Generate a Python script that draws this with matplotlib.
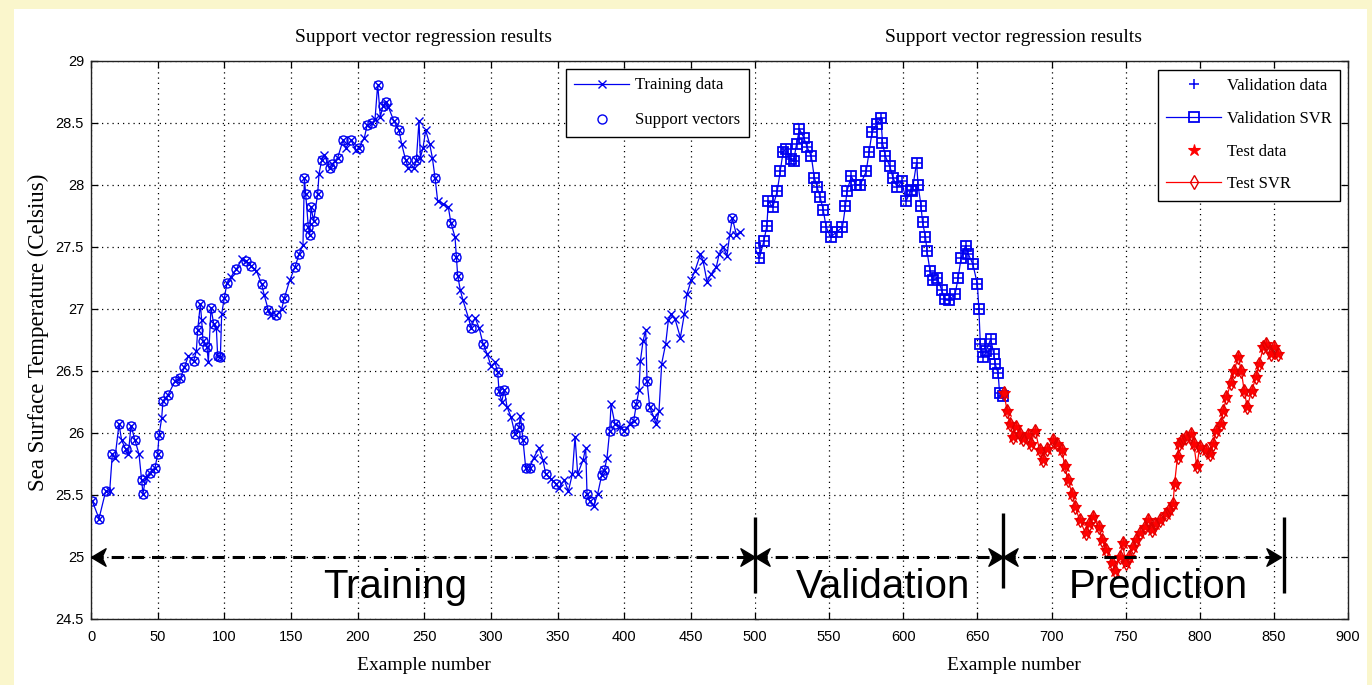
import matplotlib
matplotlib.use("Agg")
import matplotlib.pyplot as plt
from matplotlib.path import Path
from matplotlib.patches import Rectangle

# ---------------- data ----------------
x_train = [1, 6, 11, 14, 16, 18, 21, 23, 26, 28, 30, 33, 36, 38, 39, 41, 44, 48, 50, 51,
           53, 54, 58, 63, 67, 70, 73, 77, 79, 80, 82, 83, 84, 87, 88, 90, 92, 94, 95, 97,
           98, 100, 102, 105, 109, 113, 116, 120, 124, 128, 130, 133, 135, 139, 143, 145,
           149, 153, 156, 159, 160, 161, 163, 164, 165, 167, 170, 171, 173, 175, 179, 181,
           185, 189, 191, 195, 199, 201, 205, 207, 211, 213, 215, 217, 219, 221, 223, 227,
           231, 233, 236, 238, 242, 244, 246, 247, 249, 251, 254, 256, 258, 260, 264, 268,
           270, 273, 274, 275, 277, 279, 283, 285, 288, 291, 294, 297, 300, 303, 305, 306,
           308, 310, 312, 315, 318, 321, 322, 324, 326, 329, 332, 336, 339, 341, 345, 349,
           351, 355, 358, 361, 363, 365, 369, 371, 372, 374, 377, 380, 383, 385, 387, 389,
           390, 393, 397, 400, 404, 407, 409, 411, 412, 414, 416, 417, 419, 422, 424, 426,
           428, 431, 433, 435, 438, 442, 445, 447, 450, 453, 457, 459, 462, 465, 469, 471,
           474, 477, 479, 481, 484, 487]
y_train = [25.45, 25.31, 25.53, 25.53, 25.83, 25.80, 26.07, 25.94, 25.87, 25.83, 26.06, 25.94,
           25.83, 25.62, 25.51, 25.64, 25.68, 25.72, 25.83, 25.98, 26.12, 26.26, 26.31, 26.42,
           26.44, 26.53, 26.62, 26.58, 26.66, 26.83, 27.04, 26.91, 26.74, 26.69, 26.57, 27.01,
           26.88, 26.85, 26.62, 26.61, 26.96, 27.09, 27.21, 27.26, 27.32, 27.40, 27.39, 27.35,
           27.31, 27.20, 27.11, 26.99, 26.95, 26.95, 27.00, 27.09, 27.23, 27.34, 27.44, 27.52,
           28.06, 27.93, 27.66, 27.60, 27.82, 27.71, 27.93, 28.09, 28.20, 28.24, 28.14, 28.17,
           28.22, 28.36, 28.30, 28.36, 28.28, 28.30, 28.38, 28.48, 28.50, 28.53, 28.81, 28.55,
           28.64, 28.67, 28.63, 28.52, 28.44, 28.33, 28.20, 28.14, 28.14, 28.20, 28.52, 28.22,
           28.30, 28.44, 28.33, 28.22, 28.06, 27.87, 27.85, 27.82, 27.69, 27.58, 27.42, 27.27,
           27.15, 27.07, 26.93, 26.85, 26.93, 26.85, 26.72, 26.64, 26.54, 26.57, 26.49, 26.34,
           26.25, 26.35, 26.21, 26.13, 25.99, 26.05, 26.14, 25.94, 25.72, 25.72, 25.80, 25.88,
           25.78, 25.67, 25.63, 25.59, 25.56, 25.62, 25.53, 25.67, 25.97, 25.67, 25.78, 25.88,
           25.51, 25.45, 25.41, 25.51, 25.66, 25.70, 25.80, 26.02, 26.23, 26.07, 26.05, 26.02,
           26.07, 26.10, 26.23, 26.35, 26.58, 26.74, 26.83, 26.42, 26.21, 26.13, 26.07, 26.18,
           26.56, 26.72, 26.91, 26.96, 26.92, 26.77, 26.96, 27.12, 27.23, 27.31, 27.44, 27.39,
           27.22, 27.28, 27.34, 27.44, 27.50, 27.43, 27.60, 27.73, 27.60, 27.62]
sv_x = [1, 6, 11, 16, 21, 26, 30, 33, 38, 39, 44, 48, 50, 51, 54, 58, 63, 67, 70, 77, 80,
        82, 84, 87, 90, 92, 95, 97, 100, 102, 109, 116, 120, 128, 133, 139, 145, 153, 156,
        160, 161, 163, 164, 165, 167, 170, 173, 179, 181, 185, 189, 195, 201, 207, 211,
        215, 219, 221, 227, 231, 236, 244, 258, 270, 274, 275, 285, 294, 305, 306, 310,
        318, 321, 324, 326, 329, 341, 349, 372, 374, 383, 385, 389, 393, 400, 407, 409,
        417, 419, 481]

x_val = [500, 503, 506, 508, 509, 512, 515, 517, 519, 521, 524, 526, 528, 530, 533, 535,
         538, 540, 542, 544, 546, 548, 551, 555, 559, 561, 562, 565, 568, 571, 575, 577,
         579, 582, 585, 586, 588, 591, 593, 596, 599, 602, 605, 606, 609, 610, 612, 613,
         615, 616, 618, 620, 623, 626, 628, 631, 635, 637, 639, 642, 644, 647, 650, 651,
         652, 654, 656, 659, 661, 662, 664, 665, 667]
y_val = [27.49, 27.41, 27.55, 27.67, 27.87, 27.82, 27.95, 28.11, 28.27, 28.29, 28.21, 28.19,
         28.33, 28.45, 28.38, 28.31, 28.23, 28.06, 27.98, 27.90, 27.80, 27.66, 27.58, 27.62,
         27.66, 27.83, 27.95, 28.07, 28.00, 28.00, 28.11, 28.27, 28.43, 28.49, 28.54, 28.34,
         28.23, 28.15, 28.06, 27.98, 28.03, 27.87, 27.96, 27.95, 28.18, 28.00, 27.83, 27.70,
         27.58, 27.47, 27.31, 27.23, 27.25, 27.15, 27.08, 27.07, 27.12, 27.25, 27.41, 27.51,
         27.44, 27.36, 27.20, 27.00, 26.72, 26.61, 26.66, 26.76, 26.64, 26.56, 26.48, 26.32,
         26.30]

x_test = [668, 670, 672, 674, 676, 679, 681, 684, 686, 689, 692, 694, 697, 701, 704, 707,
          709, 711, 714, 716, 719, 723, 725, 728, 732, 734, 737, 741, 743, 746, 748, 750,
          752, 755, 757, 760, 763, 765, 768, 770, 773, 777, 779, 782, 783, 785, 786, 788,
          791, 794, 796, 798, 800, 804, 807, 809, 811, 814, 816, 818, 821, 823, 826, 828,
          830, 832, 835, 838, 840, 843, 845, 848, 850, 853]
y_test = [26.32, 26.18, 26.07, 25.97, 26.05, 25.99, 25.95, 25.98, 25.91, 26.02, 25.86, 25.78,
          25.87, 25.94, 25.91, 25.86, 25.73, 25.62, 25.51, 25.40, 25.30, 25.19, 25.27, 25.32,
          25.24, 25.14, 25.06, 24.95, 24.89, 25.00, 25.11, 24.95, 25.00, 25.08, 25.14, 25.19,
          25.24, 25.30, 25.22, 25.27, 25.30, 25.35, 25.38, 25.43, 25.59, 25.81, 25.91, 25.94,
          25.97, 25.99, 25.91, 25.73, 25.89, 25.86, 25.83, 25.91, 26.02, 26.07, 26.18, 26.29,
          26.40, 26.50, 26.61, 26.50, 26.34, 26.21, 26.34, 26.45, 26.56, 26.69, 26.72, 26.64,
          26.69, 26.64]

y_ticks = [24.5, 25, 25.5, 26, 26.5, 27, 27.5, 28, 28.5, 29]
y_tick_labels = ["24.5", "25", "25.5", "26", "26.5", "27", "27.5", "28", "28.5", "29"]
x_ticks_left = [0, 50, 100, 150, 200, 250, 300, 350, 400, 450]
x_ticks_right = [500, 550, 600, 650, 700, 750, 800, 850, 900]

# segment boundaries of the annotation (example number)
seg_train = (0, 498)
seg_val = (500, 667.6)
seg_pred = (667.6, 855)

# ---------------- figure ----------------
W, H = 1372, 685
fig = plt.figure(figsize=(W / 100, H / 100), dpi=100)
fig.patch.set_facecolor("#FAF6CC")
fig.add_artist(Rectangle((14 / W, 0), (1367 - 14) / W, (H - 9) / H,
                         transform=fig.transFigure, fc="white", ec="none", zorder=-10))

SERIF = ["Liberation Serif", "DejaVu Serif"]
SANS = ["Liberation Sans", "DejaVu Sans"]
BLUE = "#0000F0"
RED = "#FF0000"

axL = fig.add_axes([91 / W, (H - 619) / H, 666.7 / W, 558 / H])
axR = fig.add_axes([755 / W, (H - 619) / H, 593 / W, 558 / H])

for ax in (axL, axR):
    ax.set_ylim(24.5, 29)
    ax.set_yticks(y_ticks)
    ax.grid(True, color="k", linestyle=(0, (1, 3.2)), linewidth=0.9)
    ax.tick_params(direction="in", length=5, width=0.9, top=True, labelsize=10.5)
    for s in ax.spines.values():
        s.set_linewidth(1.0)
        s.set_color("#222222")

axL.set_xlim(0, 500)
axL.set_xticks(x_ticks_left)
axL.set_yticklabels(y_tick_labels)
axL.spines["right"].set_visible(False)
axL.tick_params(right=False)
axL.tick_params(axis="x", pad=8)
axL.tick_params(axis="y", pad=5)

axR.set_xlim(500, 900)
axR.set_xticks(x_ticks_right)
axR.spines["left"].set_visible(False)
axR.tick_params(left=False, labelleft=False, right=True, labelright=False)
axR.tick_params(axis="x", pad=8)

for ax in (axL, axR):
    for lab in ax.get_xticklabels() + ax.get_yticklabels():
        lab.set_family(SANS)

# ---------------- data marks ----------------
axL.plot(x_train, y_train, "-", color=BLUE, lw=0.9, marker="x", ms=5.5, mew=1.0,
         label="Training data")
sv_y = [y_train[x_train.index(v)] for v in sv_x]
axL.plot(sv_x, sv_y, ls="none", marker="o", mfc="none", mec=BLUE, ms=6.5, mew=1.0,
         label="Support vectors")

axR.plot(x_val, y_val, ls="none", marker="+", color=BLUE, ms=7, mew=1.1,
         label="Validation data")
axR.plot(x_val, y_val, "-", color=BLUE, lw=0.9, marker="s", mfc="none", mec=BLUE,
         ms=7, mew=1.3, label="Validation SVR")
axR.plot(x_test, y_test, ls="none", marker="*", color=RED, ms=9, mew=0.8,
         label="Test data")
axR.plot(x_test, y_test, "-", color=RED, lw=0.9, marker="d", mfc="none", mec="#E00000",
         ms=7, mew=1.0, label="Test SVR")

# ---------------- legends ----------------
leg_kw = dict(loc="upper left", bbox_transform=fig.transFigure, frameon=True,
              fancybox=False, edgecolor="k", framealpha=1, borderpad=0.5,
              handlelength=3.3, handletextpad=0.35, borderaxespad=0, numpoints=1,
              prop={"family": SERIF, "size": 12})
legL = axL.legend(bbox_to_anchor=(566 / W, 1 - 69 / H), labelspacing=1.15, **leg_kw)
legR = axR.legend(bbox_to_anchor=(1158 / W, 1 - 70 / H), labelspacing=1.0, **leg_kw)
for lg in (legL, legR):
    lg.get_frame().set_linewidth(1.0)
    lg.set_zorder(20)

# ---------------- titles / labels ----------------
for cx in (423, 1013):
    fig.text(cx / W, 1 - 38 / H, "Support vector regression results", ha="center",
             va="center", family=SERIF, size=14)
    fig.text((cx + 1) / W, 1 - 666 / H, "Example number", ha="center", va="center",
             family=SERIF, size=14)
fig.text(38 / W, 1 - 332 / H, "Sea Surface Temperature (Celsius)", ha="center",
         va="center", rotation=90, family=SERIF, size=16.5)

# ---------------- segment annotations ----------------
head_r = Path([(0, 0), (-1, 0.6), (-0.72, 0), (-1, -0.6), (0, 0)],
              [Path.MOVETO, Path.LINETO, Path.LINETO, Path.LINETO, Path.CLOSEPOLY])
head_l = Path([(0, 0), (1, 0.6), (0.72, 0), (1, -0.6), (0, 0)],
              [Path.MOVETO, Path.LINETO, Path.LINETO, Path.LINETO, Path.CLOSEPOLY])
DASH = (0, (4, 2.6))


def seg_arrow(ax, a, b):
    ax.plot([a, b], [25, 25], color="k", lw=2.2, ls=DASH, clip_on=False, zorder=8)
    ax.plot([a], [25], marker=head_l, ms=21, color="k", ls="none", clip_on=False, zorder=9)
    ax.plot([b], [25], marker=head_r, ms=21, color="k", ls="none", clip_on=False, zorder=9)


seg_arrow(axL, *seg_train)
seg_arrow(axR, *seg_val)
seg_arrow(axR, *seg_pred)
for xb, y0, y1 in ((seg_val[0], 24.71, 25.32), (seg_pred[0], 24.75, 25.355),
                   (seg_pred[1] + 2, 24.71, 25.32)):
    axR.plot([xb, xb], [y0, y1], color="k", lw=2.4, clip_on=False, zorder=9,
             solid_capstyle="butt")

txt_kw = dict(ha="center", va="baseline", family=SANS, size=29, zorder=10)
axL.text(228, 24.67, "Training", **txt_kw)
axR.text(586.5, 24.67, "Validation", **txt_kw)
axR.text(772.3, 24.67, "Prediction", **txt_kw)

fig.savefig("out.png", dpi=100, facecolor=fig.get_facecolor())
